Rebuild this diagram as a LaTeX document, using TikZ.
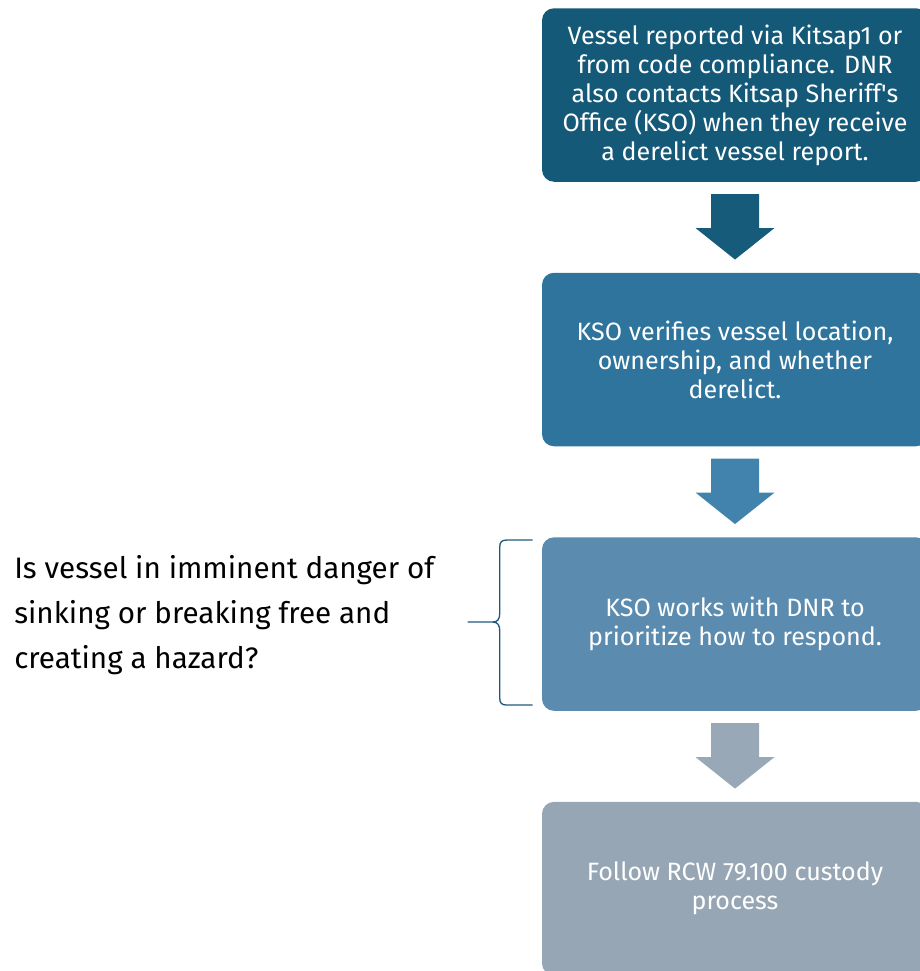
\documentclass[tikz,border=0pt]{standalone}
\usepackage{fontspec}
\setmainfont{Fira Sans}
\usetikzlibrary{positioning, calc}
\definecolor{stepA}{RGB}{21, 89, 120}
\definecolor{stepB}{RGB}{46, 116, 157}
\definecolor{stepC}{RGB}{91, 140, 176}
\definecolor{stepD}{RGB}{151, 166, 180}
\definecolor{flowA}{RGB}{22, 91, 122}
\definecolor{flowB}{RGB}{66, 131, 173}
\definecolor{flowC}{RGB}{152, 168, 182}
\definecolor{braceBlue}{RGB}{30, 90, 125}

% block arrow from the bottom of one box to the top of the next
\newcommand{\flowarrow}[3]{%
    \fill[#3] ($(#1.south)+(-24,12)$) -- ++(48,0) -- ++(0,34) -- ++(15.5,0)
        -- ($(#2.north)+(0,-13)$)
        -- ($(#1.south)+(-39.5,46)$) -- ++(15.5,0) -- cycle;}

\begin{document}
\begin{tikzpicture}[
            x=0.75pt, y=-0.75pt,
            node distance=67.875pt,
            % Styles
            stepbox/.style={
                rounded corners=9pt, align=center, text=white, inner sep=0pt,
                minimum width=289.5pt, minimum height=130.125pt,
                font=\fontsize{18.8}{21.75}\selectfont
            },
            question/.style={
                align=left, anchor=west, inner sep=0pt, text=black,
                font=\fontsize{22.2}{33.75}\selectfont
            },
            bracket/.style={draw=braceBlue, line width=1pt}
        ]

            \useasboundingbox (0,0) rectangle (920,971);
            \clip (0,0) rectangle (920,971);

            % --- Boxes ---
            \node[stepbox, fill=stepA] (report) at (735,95) {Vessel reported via Kitsap1 or\\from code compliance. DNR\\also contacts Kitsap Sheriff\textquotesingle s\\Office (KSO) when they receive\\a derelict vessel report.};

            \node[stepbox, fill=stepB, below=of report] (verify) {KSO verifies vessel location,\\ownership, and whether\\derelict.};

            \node[stepbox, fill=stepC, below=of verify] (prioritize) {KSO works with DNR to\\prioritize how to respond.};

            \node[stepbox, fill=stepD, below=of prioritize] (custody) {Follow RCW 79.100 custody\\process};

            % --- Arrows ---
            \flowarrow{report}{verify}{flowA}
            \flowarrow{verify}{prioritize}{flowB}
            \flowarrow{prioritize}{custody}{flowC}

            % --- Question and brace ---
            \node[question] (hazard) at (14,615) {Is vessel in imminent danger of\\sinking or breaking free and\\creating a hazard?};

            \coordinate (braceTop) at ($(prioritize.north west)+(-9,3)$);
            \draw[bracket] (braceTop) -- ++(-26,0)
                .. controls +(-5,0) and +(0,-5) .. ++(-7,7) -- ++(0,66)
                .. controls +(0,6) and +(5,0) .. ++(-7,9) -- ++(-25,0)
                -- ++(25,0)
                .. controls +(5,0) and +(0,-6) .. ++(7,9) -- ++(0,67)
                .. controls +(0,5) and +(-5,0) .. ++(7,7) -- ++(26,0);

        \end{tikzpicture}
\end{document}
